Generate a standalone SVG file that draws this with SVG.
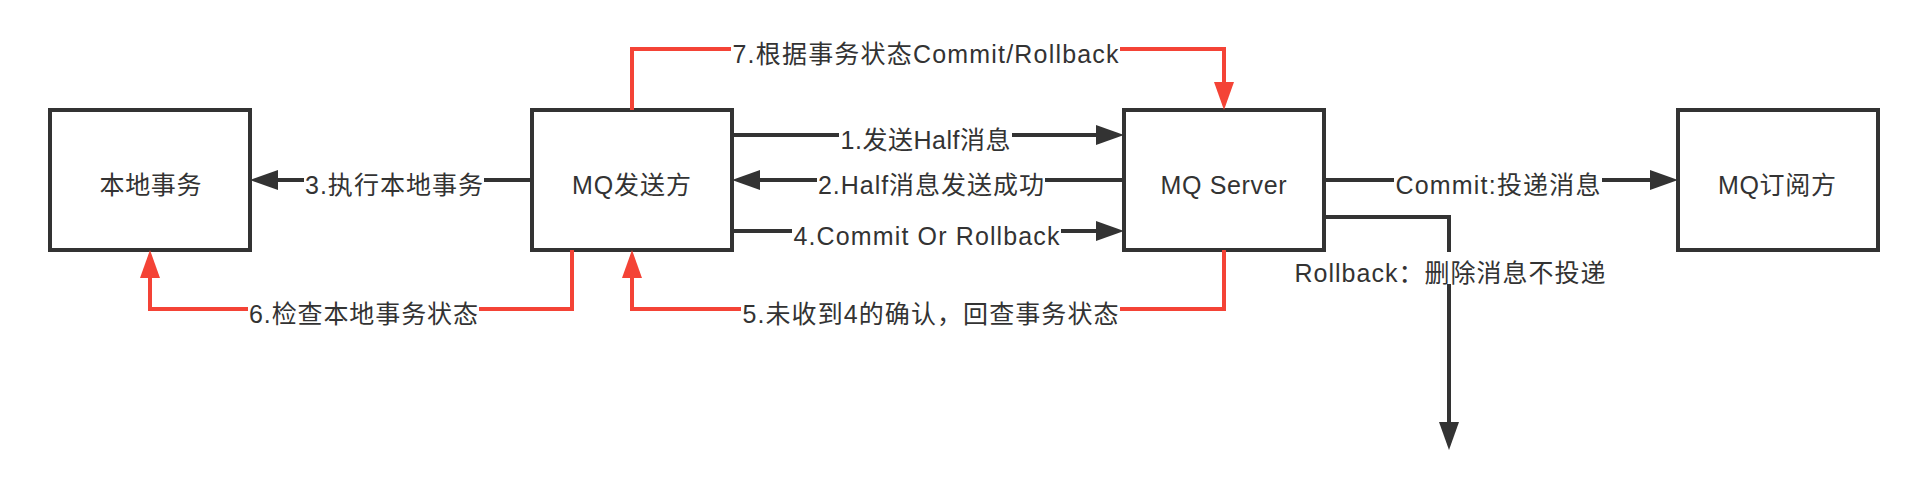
<svg xmlns="http://www.w3.org/2000/svg" width="1928" height="490" viewBox="0 0 1928 490">
<style>
.box{fill:#ffffff;stroke:#333333;stroke-width:4}
.t{font-family:"Liberation Sans","Noto Sans CJK SC",sans-serif;font-size:25px;fill:#333333;text-anchor:middle}
.dk{fill:none;stroke:#333333;stroke-width:4}
.rd{fill:none;stroke:#f44336;stroke-width:4}
.bg{fill:#ffffff}
</style>
<defs>
<marker id="ad" markerUnits="userSpaceOnUse" markerWidth="28" markerHeight="20" refX="2" refY="10" orient="auto" viewBox="0 0 28 20">
<path d="M0,0 L28,10 L0,20 Z" fill="#333333"/>
</marker>
<marker id="ar" markerUnits="userSpaceOnUse" markerWidth="28" markerHeight="20" refX="2" refY="10" orient="auto" viewBox="0 0 28 20">
<path d="M0,0 L28,10 L0,20 Z" fill="#f44336"/>
</marker>
</defs>
<rect x="0" y="0" width="1928" height="490" fill="#ffffff"/>
<g id="node-local-tx">
<rect class="box" x="50" y="110" width="200" height="140"/>
<text class="t" x="150.5" y="193.5" textLength="102">本地事务</text>
</g>
<g id="node-producer">
<rect class="box" x="532" y="110" width="200" height="140"/>
<text class="t" x="631.5" y="193.5" textLength="119">MQ发送方</text>
</g>
<g id="node-server">
<rect class="box" x="1124" y="110" width="200" height="140"/>
<text class="t" x="1223.5" y="193.5" textLength="126">MQ Server</text>
</g>
<g id="node-consumer">
<rect class="box" x="1678" y="110" width="200" height="140"/>
<text class="t" x="1777" y="193.5" textLength="118">MQ订阅方</text>
</g>
<g id="connectors">
<path class="dk" d="M732,135 H1098" marker-end="url(#ad)"/>
<path class="dk" d="M1124,180 H758" marker-end="url(#ad)"/>
<path class="dk" d="M532,180 H276" marker-end="url(#ad)"/>
<path class="dk" d="M732,231 H1098" marker-end="url(#ad)"/>
<path class="rd" d="M1224,250 V309 H632 V276" marker-end="url(#ar)"/>
<path class="rd" d="M572,250 V309 H150 V276" marker-end="url(#ar)"/>
<path class="rd" d="M632,110 V49 H1224 V84" marker-end="url(#ar)"/>
<path class="dk" d="M1324,180 H1652" marker-end="url(#ad)"/>
<path class="dk" d="M1324,217 H1449 V424" marker-end="url(#ad)"/>
<g id="labels">
<rect class="bg" x="839" y="125" width="173" height="20"/>
<text class="t" x="925.5" y="148.5" textLength="170">1.发送Half消息</text>
<rect class="bg" x="817" y="170" width="228" height="20"/>
<text class="t" x="931" y="193.5" textLength="226">2.Half消息发送成功</text>
<rect class="bg" x="304" y="170" width="180" height="20"/>
<text class="t" x="394" y="193.5" textLength="178">3.执行本地事务</text>
<rect class="bg" x="792" y="221" width="269" height="20"/>
<text class="t" x="926.5" y="244.5" textLength="266">4.Commit Or Rollback</text>
<rect class="bg" x="741" y="299" width="379" height="20"/>
<text class="t" x="930.5" y="322.5" textLength="376">5.未收到4的确认，回查事务状态</text>
<rect class="bg" x="248" y="299" width="231" height="20"/>
<text class="t" x="363.5" y="322.5" textLength="229">6.检查本地事务状态</text>
<rect class="bg" x="731" y="39" width="389" height="20"/>
<text class="t" x="925.5" y="63" textLength="386">7.根据事务状态Commit/Rollback</text>
<rect class="bg" x="1394" y="170" width="208" height="20"/>
<text class="t" x="1498" y="193.5" textLength="205">Commit:投递消息</text>
<rect class="bg" x="1293" y="252" width="314" height="32"/>
<text class="t" x="1450" y="281.5" textLength="311">Rollback：删除消息不投递</text>
</g>
</g>
</svg>
